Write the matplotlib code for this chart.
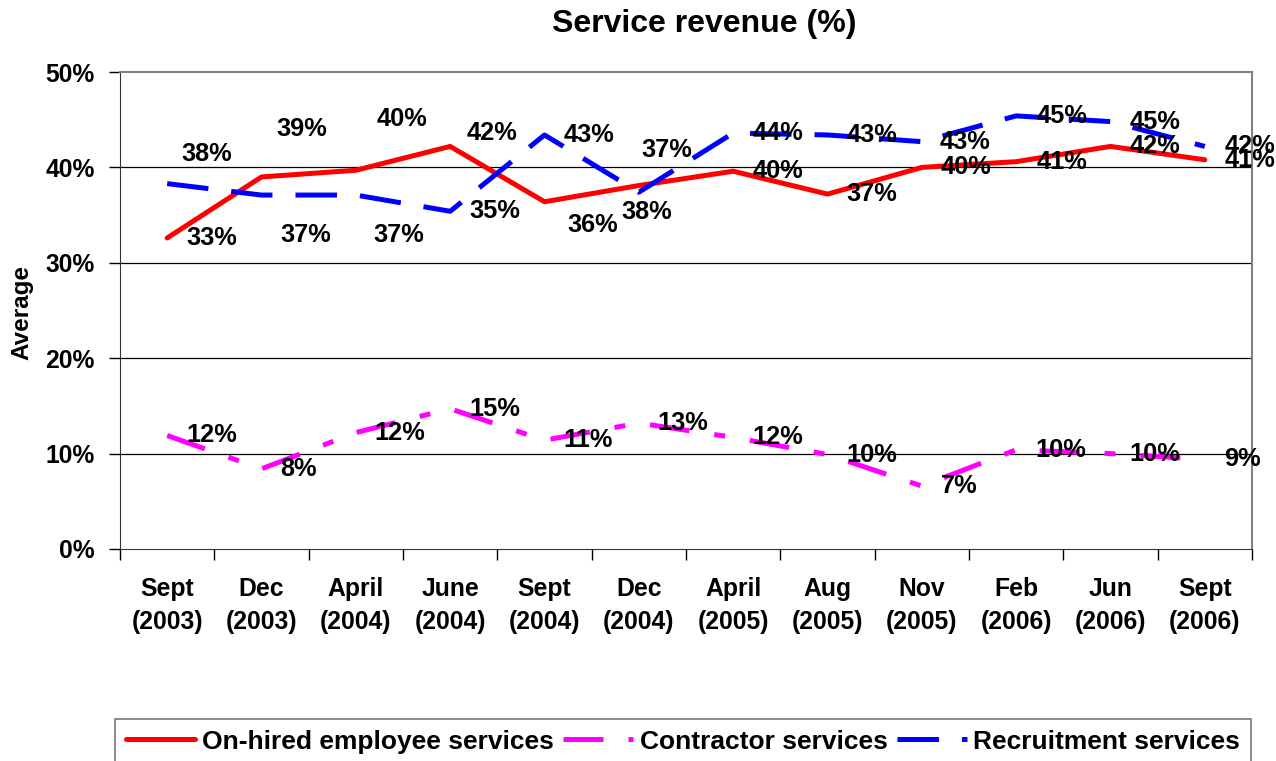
import numpy as np
import matplotlib
matplotlib.use("Agg")
import matplotlib.pyplot as plt

plt.rcParams['font.family'] = ['Liberation Sans', 'DejaVu Sans']
plt.rcParams['font.weight'] = 'bold'

# data
periods = ['Sept\n(2003)', 'Dec\n(2003)', 'April\n(2004)', 'June\n(2004)', 'Sept\n(2004)', 'Dec\n(2004)',
           'April\n(2005)', 'Aug\n(2005)', 'Nov\n(2005)', 'Feb\n(2006)', 'Jun\n(2006)', 'Sept\n(2006)']
onhired = [32.6, 39.0, 39.7, 42.2, 36.4, 38.1, 39.6, 37.2, 40.0, 40.6, 42.2, 40.8]
contractor = [11.9, 8.4, 12.2, 14.7, 11.4, 13.2, 11.7, 9.9, 6.6, 10.4, 10.0, 9.4]
recruitment = [38.3, 37.1, 37.1, 35.4, 43.4, 37.4, 43.6, 43.4, 42.7, 45.4, 44.8, 42.2]
yticks = [0, 10, 20, 30, 40, 50]

# label offsets in pixels (dx, dy down)
off_red = [(19, 0), (15, -48), (21, -51), (16, -13), (23, 23), (-17, 26),
           (19, 0), (19, 0), (19, 0), (20, 0), (19, 0), (20, 0)]
off_mag = [(19, 0)] * 12
off_blue = [(14, -30), (19, 40), (18, 40), (19, 0), (19, 0), (3, -42),
            (19, 0), (19, 0), (18, 0), (20, 0), (19, 0), (20, 0)]

fig = plt.figure(figsize=(12.76, 7.61), dpi=100)
ax = fig.add_axes([120/1276, 1-549/761, 1132/1276, 477/761])

x = np.arange(len(periods))
lw = 3.6
l1, = ax.plot(x, onhired, color='#FF0000', lw=lw, solid_capstyle='round', solid_joinstyle='round',
              label='On-hired employee services')
l2, = ax.plot(x, contractor, color='#FF00FF', lw=lw, dashes=(8, 5, 2.2, 5),
              label='Contractor services')
l3, = ax.plot(x, recruitment, color='#0000FF', lw=lw, dashes=(8.3, 4.6),
              label='Recruitment services')

def labels(vals, offs):
    for i, v in enumerate(vals):
        dx, dy = offs[i]
        ax.annotate(f"{v:.0f}%", (x[i], v), xytext=(dx*0.72, -dy*0.72), textcoords='offset points',
                    ha='left', va='center', fontsize=18.3, fontweight='bold', zorder=5)

labels(onhired, off_red)
labels(contractor, off_mag)
labels(recruitment, off_blue)

ax.set_xlim(-0.5, 11.5)
ax.set_ylim(0, 50)
ax.set_yticks(yticks)
ax.set_yticklabels([f"{t}%" for t in yticks], fontsize=17.7, fontweight='bold')
ax.set_xticks(np.arange(-0.5, 12, 1))
ax.set_xticklabels([])
ax.set_xticks(x, minor=True)
ax.set_xticklabels(periods, minor=True, fontsize=17.8, fontweight='bold', linespacing=1.5)
ax.tick_params(axis='x', which='minor', length=0, pad=20)
ax.tick_params(axis='x', which='major', length=8, width=1, color='black', direction='out')
ax.tick_params(axis='y', length=8, width=1, direction='out', pad=10)

for t in [10, 20, 30, 40]:
    ax.axhline(t, color='black', lw=0.9, zorder=0)

ax.spines['top'].set_color('#808080')
ax.spines['right'].set_color('#808080')
ax.spines['top'].set_linewidth(1.5)
ax.spines['right'].set_linewidth(1.5)
ax.spines['left'].set_color('#333333')
ax.spines['bottom'].set_color('#333333')

fig.text(704/1276, 1-24/761, 'Service revenue (%)', ha='center', va='center', fontsize=23, fontweight='bold')
fig.text(22/1276, 1-313/761, 'Average', rotation=90, ha='center', va='center', fontsize=17.5, fontweight='bold')

leg = fig.legend(handles=[l1, l2, l3], loc='upper left', bbox_to_anchor=(115/1276, 1-719/761),
                 ncol=3, frameon=True, fancybox=False, fontsize=19, handlelength=2.65,
                 handletextpad=0.25, columnspacing=0.35, borderpad=0.4, borderaxespad=0)
leg.get_frame().set_edgecolor('#555555')
leg.get_frame().set_linewidth(1.2)
for t in leg.get_texts():
    t.set_fontweight('bold')

fig.savefig('out.png', dpi=100)
